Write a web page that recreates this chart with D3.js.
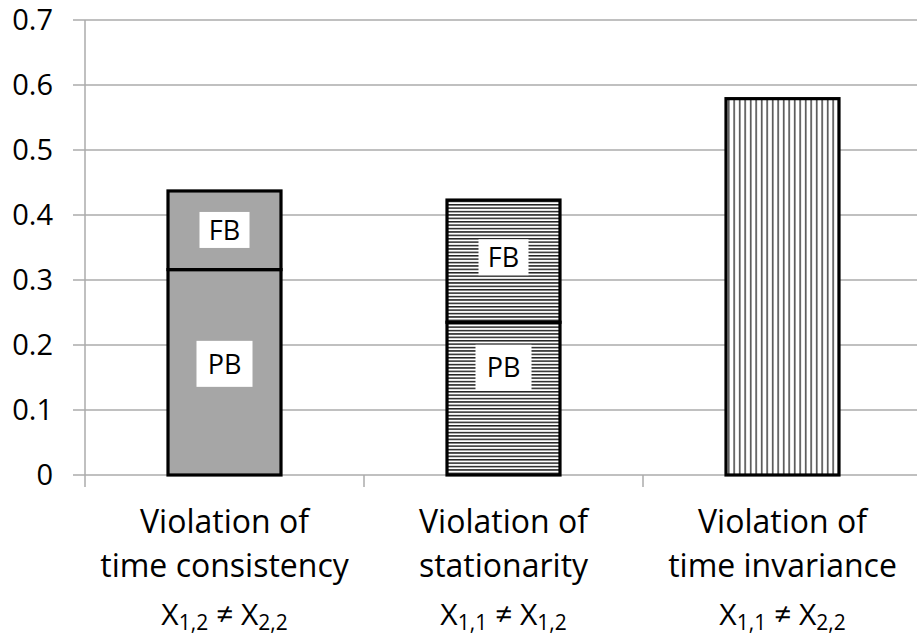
<!DOCTYPE html>
<html>
<head>
<meta charset="utf-8">
<script src="https://cdn.jsdelivr.net/npm/d3@7"></script>
<style>
  body { margin: 0; background: #fff; }
  text { font-family: "Open Sans", "Noto Sans", sans-serif; fill: #000; }
</style>
</head>
<body>
<div class="chart"></div>
<script>
// data
var categories = ["time consistency", "stationarity", "time invariance"];
var subscripts = [["1,2", "2,2"], ["1,1", "1,2"], ["1,1", "2,2"]];
var pbValues = [0.316, 0.235, 0];
var fbValues = [0.121, 0.188, 0];
var otherValues = [0, 0, 0.579];
// where the PB / FB boxes sit (in data units)
var pbLabelAt = [0.171, 0.165, null];
var fbLabelAt = [0.377, 0.335, null];
var yTicks = [0, 0.1, 0.2, 0.3, 0.4, 0.5, 0.6, 0.7];

var W = 917, H = 636;
var margin = {left: 85, top: 20, right: -5, bottom: 161};

var svg = d3.select(".chart").append("svg")
  .attr("width", W).attr("height", H);

var defs = svg.append("defs");
// horizontal stripes
var ph = defs.append("pattern").attr("id", "hlines")
  .attr("patternUnits", "userSpaceOnUse").attr("width", 8).attr("height", 3.4);
ph.append("rect").attr("width", 8).attr("height", 3.4).attr("fill", "#fff");
ph.append("rect").attr("y", 0).attr("width", 8).attr("height", 1.5).attr("fill", "#222");
// vertical stripes
var pv = defs.append("pattern").attr("id", "vlines")
  .attr("patternUnits", "userSpaceOnUse").attr("width", 5.5).attr("height", 8);
pv.append("rect").attr("width", 5.5).attr("height", 8).attr("fill", "#fff");
pv.append("rect").attr("x", 2).attr("width", 1.4).attr("height", 8).attr("fill", "#333");

var fills = ["#a6a6a6", "url(#hlines)", "url(#vlines)"];

var x = d3.scaleBand()
  .domain(d3.range(categories.length))
  .range([margin.left, W - margin.right])
  .paddingInner(0).paddingOuter(0);

var y = d3.scaleLinear()
  .domain([0, 0.7])
  .range([H - margin.bottom, margin.top]);

// gridlines
svg.append("g").selectAll("line").data(yTicks).join("line")
  .attr("x1", margin.left - 12).attr("x2", W)
  .attr("y1", function(d) { return y(d); }).attr("y2", function(d) { return y(d); })
  .attr("stroke", "#ababab").attr("stroke-width", 1.5);

// y axis line
svg.append("line")
  .attr("x1", margin.left).attr("x2", margin.left)
  .attr("y1", y(0.7)).attr("y2", y(0) + 12)
  .attr("stroke", "#ababab").attr("stroke-width", 1.5);

// category tick marks
svg.append("g").selectAll("line").data(d3.range(1, categories.length + 1)).join("line")
  .attr("x1", function(i) { return margin.left + i * x.bandwidth(); })
  .attr("x2", function(i) { return margin.left + i * x.bandwidth(); })
  .attr("y1", y(0)).attr("y2", y(0) + 12)
  .attr("stroke", "#ababab").attr("stroke-width", 1.5);

// y tick labels
svg.append("g").selectAll("text").data(yTicks).join("text")
  .attr("x", 53).attr("y", function(d) { return y(d); })
  .attr("dy", "0.35em")
  .attr("text-anchor", "end")
  .style("font-size", "29px")
  .text(function(d) { return d === 0 ? "0" : d.toFixed(1); });

// bars
var barW = x.bandwidth() * 0.405;
var segs = [];
categories.forEach(function(c, i) {
  var y0 = 0;
  [pbValues[i], fbValues[i], otherValues[i]].forEach(function(v) {
    if (v > 0) { segs.push({i: i, y0: y0, y1: y0 + v}); y0 += v; }
  });
});

svg.append("g").selectAll("rect").data(segs).join("rect")
  .attr("x", function(d) { return x(d.i) + (x.bandwidth() - barW) / 2; })
  .attr("width", barW)
  .attr("y", function(d) { return y(d.y1); })
  .attr("height", function(d) { return y(d.y0) - y(d.y1); })
  .attr("fill", function(d) { return fills[d.i]; })
  .attr("stroke", "#000").attr("stroke-width", 3.2);

// PB / FB boxes
var labels = [];
categories.forEach(function(c, i) {
  if (pbLabelAt[i] != null) labels.push({i: i, v: pbLabelAt[i], t: "PB", h: 46, w: 56});
  if (fbLabelAt[i] != null) labels.push({i: i, v: fbLabelAt[i], t: "FB", h: 36, w: 50});
});
var lab = svg.append("g").selectAll("g").data(labels).join("g")
  .attr("transform", function(d) {
    return "translate(" + (x(d.i) + x.bandwidth() / 2) + "," + y(d.v) + ")";
  });
lab.append("rect")
  .attr("x", function(d) { return -d.w / 2; }).attr("y", function(d) { return -d.h / 2; })
  .attr("width", function(d) { return d.w; }).attr("height", function(d) { return d.h; })
  .attr("fill", "#fff");
lab.append("text")
  .attr("text-anchor", "middle").attr("dy", "0.36em")
  .style("font-size", "27px")
  .text(function(d) { return d.t; });

// category labels
var cat = svg.append("g").selectAll("g").data(categories).join("g")
  .attr("transform", function(d, i) { return "translate(" + (x(i) + x.bandwidth() / 2) + ",0)"; });
cat.append("text").attr("y", 533).attr("text-anchor", "middle")
  .style("font-size", "32px").text("Violation of");
cat.append("text").attr("y", 577).attr("text-anchor", "middle")
  .style("font-size", "32px").text(function(d) { return d; });
var sub = cat.append("text").attr("y", 625).attr("text-anchor", "middle")
  .style("font-size", "30px");
sub.each(function(d, i) {
  var t = d3.select(this);
  t.append("tspan").text("X");
  t.append("tspan").attr("dy", 5).style("font-size", "21px").text(subscripts[i][0]);
  t.append("tspan").attr("dy", -5).text(" \u2260 X");
  t.append("tspan").attr("dy", 5).style("font-size", "21px").text(subscripts[i][1]);
});
</script>
</body>
</html>
